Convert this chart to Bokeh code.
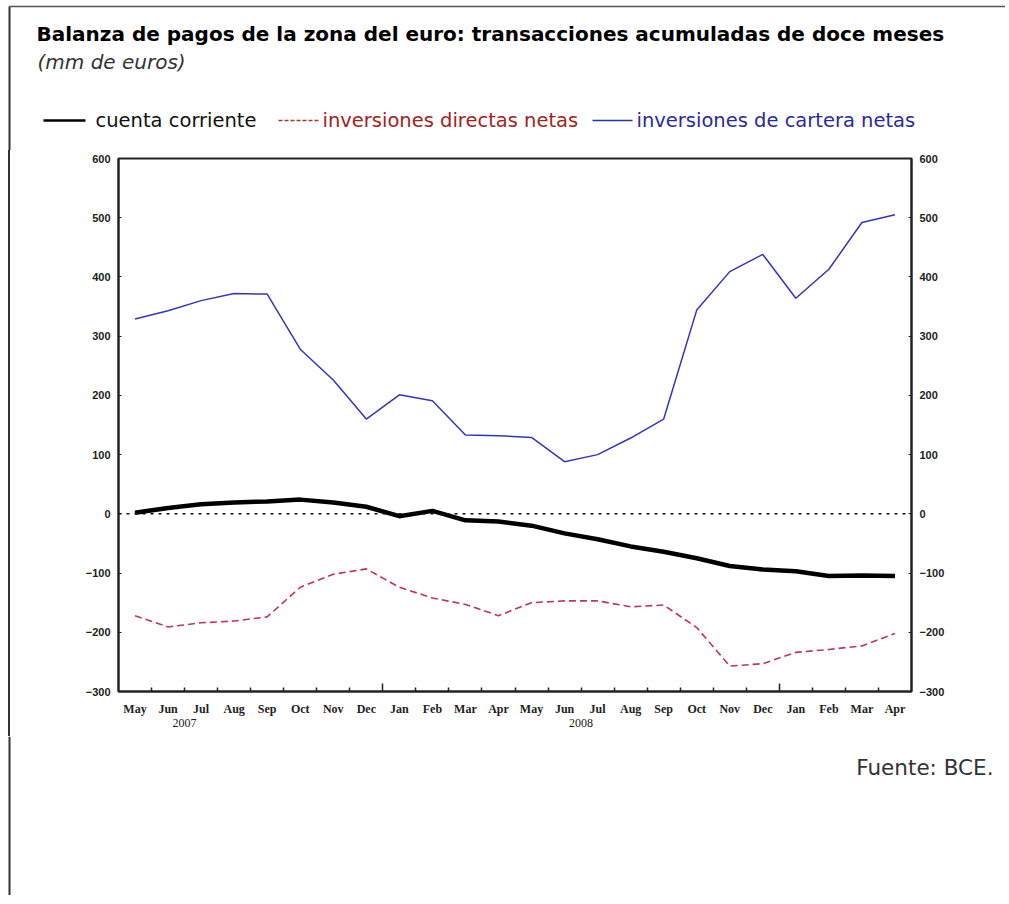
import numpy as np
from bokeh.plotting import figure
from bokeh.layouts import column, row
from bokeh.models import (Range1d, LinearAxis, FixedTicker, Span, Label, ColumnDataSource, Div)
from bokeh.core.properties import value
from bokeh.embed import file_html
from bokeh.resources import INLINE

# ---------------- data ----------------
months = ["May", "Jun", "Jul", "Aug", "Sep", "Oct", "Nov", "Dec",
          "Jan", "Feb", "Mar", "Apr", "May", "Jun", "Jul", "Aug",
          "Sep", "Oct", "Nov", "Dec", "Jan", "Feb", "Mar", "Apr"]
years = ["2007", "2008"]
year_pos = [2, 14]
year_breaks = [8, 20]

cuenta_corriente = [2, 10, 16, 19, 21, 24, 19, 12, -4, 5, -11, -13,
                    -20, -33, -43, -55, -64, -75, -88, -94, -97, -105, -104, -105]
inv_directas = [-172, -191, -184, -181, -174, -124, -102, -93, -124, -142, -153, -172,
                -150, -147, -147, -157, -154, -192, -257, -253, -234, -229, -223, -202]
inv_cartera = [329, 343, 360, 372, 371, 278, 226, 160, 201, 191, 133, 132,
               129, 88, 100, 128, 160, 344, 409, 438, 364, 413, 492, 505]

y_ticks = [-300, -200, -100, 0, 100, 200, 300, 400, 500, 600]

title_text = "Balanza de pagos de la zona del euro: transacciones acumuladas de doce meses"
subtitle_text = "(mm de euros)"
legend_labels = ["cuenta corriente", "inversiones directas netas", "inversiones de cartera netas"]
source_text = "Fuente: BCE."

# ---------------- layout ----------------
W = 1005
HEAD_H = 150
STRIP_W = 12
MAIN_TOP = HEAD_H
FRAME_L, FRAME_R, FRAME_T, FRAME_B = 118, 911, 158, 691
MAIN_H = 586
FOOT_H = 159
FONT = "DejaVu Sans"
BORDER = "#333333"
BORDER_X = 9


def blank(width, height, y0, x0=0):
    f = figure(width=width, height=height, output_backend="svg", toolbar_location=None,
               x_range=Range1d(x0, x0 + width), y_range=Range1d(y0 + height, y0),
               min_border=0, x_axis_location=None, y_axis_location=None)
    f.xgrid.visible = False
    f.ygrid.visible = False
    f.outline_line_color = None
    f.background_fill_color = "white"
    f.border_fill_color = "white"
    return f


# ---------------- header ----------------
head = blank(W, HEAD_H, 0)
head.segment(x0=[BORDER_X], y0=[6], x1=[BORDER_X], y1=[HEAD_H], line_color=BORDER, line_width=2)
head.segment(x0=[BORDER_X], y0=[6], x1=[W], y1=[6], line_color="#555555", line_width=1.5)
head.add_layout(Label(x=36, y=33, text=title_text, text_font=FONT, text_font_style="bold",
                      text_font_size="20px", text_color="#000000", text_baseline="middle"))
head.add_layout(Label(x=37, y=61, text=subtitle_text, text_font=FONT, text_font_style="italic",
                      text_font_size="20px", text_color="#333333", text_baseline="middle"))
LEG_Y = 120
leg = [
    (43, 85, "#000000", 2.5, "solid", 95, legend_labels[0], "#111111"),
    (278, 318, "#b03030", 1.3, "4 2", 322, legend_labels[1], "#a32222"),
    (592, 632, "#3030a8", 1.5, "solid", 636, legend_labels[2], "#2a2aa0"),
]
for x0, x1, lc, lw, dash, tx, txt, tc in leg:
    head.segment(x0=[x0], y0=[LEG_Y], x1=[x1], y1=[LEG_Y], line_color=lc, line_width=lw, line_dash=dash)
    head.add_layout(Label(x=tx, y=LEG_Y, text=txt, text_font=FONT, text_font_size="19.5px",
                          text_color=tc, text_baseline="middle"))

# ---------------- left strip (outer frame rule) ----------------
strip = Div(text="", width=STRIP_W, height=MAIN_H, margin=0,
            styles={"background-image": "linear-gradient(to right, #ffffff 8px, #333333 8px, "
                                        "#333333 10px, #ffffff 10px)"})

# ---------------- main chart ----------------
MW = W - STRIP_W
ML = FRAME_L - STRIP_W
MT = FRAME_T - MAIN_TOP
FW = FRAME_R - FRAME_L
FH = FRAME_B - FRAME_T
p = figure(width=MW, height=MAIN_H, output_backend="svg", toolbar_location=None,
           x_range=Range1d(0, len(months)), y_range=Range1d(y_ticks[0], y_ticks[-1]),
           min_border_left=ML, min_border_right=MW - ML - FW, min_border_top=MT,
           min_border_bottom=MAIN_H - MT - FH,
           x_axis_location=None, y_axis_location=None)
p.xgrid.visible = False
p.ygrid.visible = False
p.outline_line_color = "#222222"
p.outline_line_width = 2
p.background_fill_color = "white"
p.border_fill_color = "white"

xs = np.arange(len(months)) + 0.5

# axis 1: month boundary ticks (long at year change)
ax_ticks = LinearAxis(ticker=FixedTicker(ticks=year_breaks,
                                         minor_ticks=[i for i in range(1, len(months)) if i not in year_breaks]))
ax_ticks.major_label_text_color = None
ax_ticks.major_label_standoff = 0
ax_ticks.axis_line_color = "#222222"
ax_ticks.axis_line_width = 2
ax_ticks.major_tick_in = 8
ax_ticks.major_tick_out = 0
ax_ticks.minor_tick_in = 4
ax_ticks.minor_tick_out = 0
ax_ticks.major_tick_line_color = "#222222"
ax_ticks.minor_tick_line_color = "#222222"
ax_ticks.major_tick_line_width = 1.5
ax_ticks.minor_tick_line_width = 1.5
p.add_layout(ax_ticks, "below")

# axis 2: month names
ax_m = LinearAxis(ticker=FixedTicker(ticks=list(xs), minor_ticks=[]))
ax_m.major_label_overrides = {float(x): m for x, m in zip(xs, months)}
ax_m.axis_line_color = None
ax_m.major_tick_line_color = None
ax_m.minor_tick_line_color = None
ax_m.major_tick_out = 0
ax_m.major_label_standoff = 10
ax_m.major_label_text_font = "Liberation Serif"
ax_m.major_label_text_font_style = "bold"
ax_m.major_label_text_font_size = "12px"
ax_m.major_label_text_color = "#222222"
p.add_layout(ax_m, "below")

# axis 3: years
ax_y = LinearAxis(ticker=FixedTicker(ticks=year_pos, minor_ticks=[]))
ax_y.major_label_overrides = {yp: yr for yp, yr in zip(year_pos, years)}
ax_y.axis_line_color = None
ax_y.major_tick_line_color = None
ax_y.minor_tick_line_color = None
ax_y.major_tick_out = 0
ax_y.major_label_standoff = 0
ax_y.major_label_text_font = "Liberation Serif"
ax_y.major_label_text_font_size = "12px"
ax_y.major_label_text_color = "#222222"
p.add_layout(ax_y, "below")

for side in ("left", "right"):
    ax = LinearAxis(ticker=FixedTicker(ticks=y_ticks))
    ax.axis_line_color = "#222222"
    ax.axis_line_width = 2
    ax.major_tick_in = 3
    ax.major_tick_out = 0
    ax.minor_tick_line_color = None
    ax.major_tick_line_color = "#222222"
    ax.major_label_text_font = "Liberation Sans"
    ax.major_label_text_font_size = "11px"
    ax.major_label_text_font_style = "bold"
    ax.major_label_text_color = "#222222"
    ax.major_label_standoff = 8
    p.add_layout(ax, side)

# zero line
p.add_layout(Span(location=0, dimension="width", line_color="#111111",
                  line_width=1.5, line_dash="3 5"))

src = ColumnDataSource(dict(x=xs, cc=cuenta_corriente, dir=inv_directas, car=inv_cartera))
p.line("x", "car", source=src, line_color="#3434c0", line_width=1.5)
p.line("x", "dir", source=src, line_color="#c3325f", line_width=1.6, line_dash="7 4")
p.line("x", "cc", source=src, line_color="#000000", line_width=4.5)

# ---------------- footer ----------------
foot = blank(W, FOOT_H, MAIN_TOP + MAIN_H)
foot.segment(x0=[BORDER_X], y0=[MAIN_TOP + MAIN_H], x1=[BORDER_X], y1=[MAIN_TOP + MAIN_H + FOOT_H],
             line_color=BORDER, line_width=2)
foot.add_layout(Label(x=993, y=767, text=source_text, text_font=FONT, text_font_size="21.5px",
                      text_color="#333333", text_baseline="middle", text_align="right"))

layout = column(head, row(strip, p, spacing=0), foot, spacing=0)
open("out.html", "w").write(file_html(layout, INLINE))
